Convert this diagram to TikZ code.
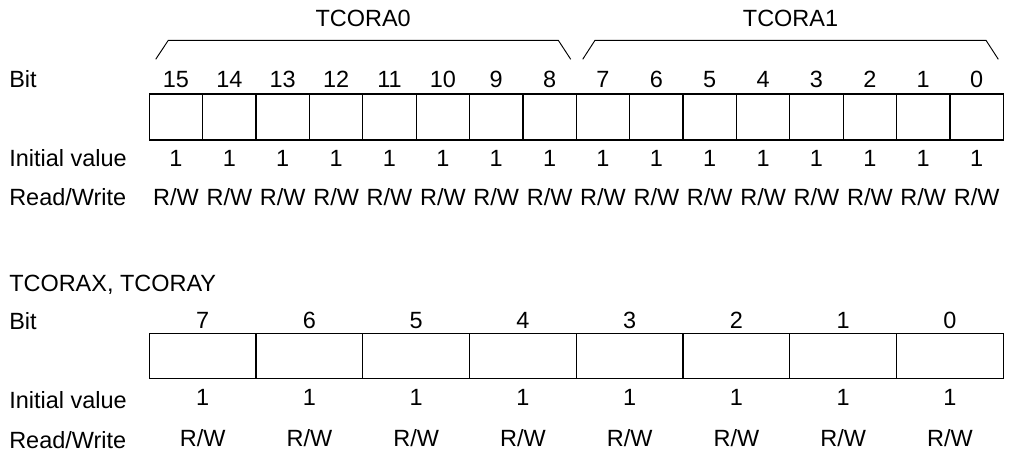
\documentclass[tikz,border=0pt]{standalone}
\usepackage{fontspec}
\setmainfont{Liberation Sans}
\begin{document}
\begin{tikzpicture}[x=0.75pt, y=-0.75pt,
    every node/.style={font=\fontsize{17.6}{21}\selectfont, inner sep=0pt},
    lbl/.style={anchor=base west},
    val/.style={anchor=base},
    cell/.style={draw, line width=0.9pt}]
    \useasboundingbox (0,0) rectangle (1009,453);

    % Upper register (TCORA0, TCORA1)
    \node[val] (nameA0) at (363.2,27) {TCORA0};
    \node[val] (nameA1) at (790.5,27) {TCORA1};
    \draw[line width=0.7pt] (155.7,59.3) -- (168.3,40.3) -- (558.3,40.3) -- (570.7,59.3);
    \draw[line width=0.7pt] (582.7,59.3) -- (595,40.3) -- (986,40.3) -- (998.3,59.3);

    \node[lbl] (bitA) at (9,87.7) {Bit};
    \node[lbl] (initA) at (9,166.4) {Initial value};
    \node[lbl] (rwA) at (9,205.4) {Read/Write};

    \foreach \i in {0,...,15} {
        \pgfmathsetmacro{\xl}{149.3+\i*53.375}
        \pgfmathtruncatemacro{\b}{15-\i}
        \draw[cell] (\xl,94) rectangle ++(53.375,46);
        \node[val] (bitA\b) at (\xl+26.69,87.7) {\b};
        \node[val] (initA\b) at (\xl+26.69,166.4) {1};
        \node[val] (rwA\b) at (\xl+26.69,205.4) {R/W};
    }

    % Lower register (TCORAX, TCORAY)
    \node[lbl] (nameX) at (9,291) {TCORAX, TCORAY};
    \node[lbl] (bitX) at (9,329) {Bit};
    \node[lbl] (initX) at (9,408) {Initial value};
    \node[lbl] (rwX) at (9,448) {Read/Write};

    \foreach \i in {0,...,7} {
        \pgfmathsetmacro{\xl}{149.3+\i*106.75}
        \pgfmathtruncatemacro{\b}{7-\i}
        \draw[cell] (\xl,333.3) rectangle ++(106.75,45);
        \node[val] (bitX\b) at (\xl+53.375,328.4) {\b};
        \node[val] (initX\b) at (\xl+53.375,405.5) {1};
        \node[val] (rwX\b) at (\xl+53.375,446) {R/W};
    }

\end{tikzpicture}
\end{document}
